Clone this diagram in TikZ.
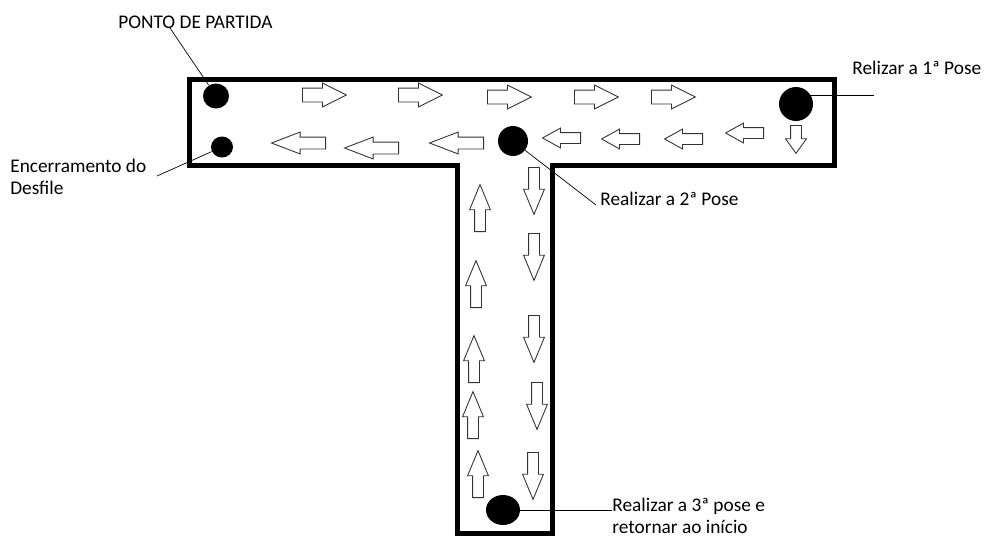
\documentclass[tikz,border=0pt]{standalone}
\usepackage{fontspec}
\setmainfont{Carlito}
\usetikzlibrary{shapes.arrows,shapes.geometric}

\begin{document}
\begin{tikzpicture}[x=0.02cm, y=-0.02cm, font=\fontsize{11}{12.5}\selectfont]

    \tikzstyle{seta}=[single arrow, draw=black!80, line width=0.5pt, fill=white, single arrow head indent=0pt, anchor=tail]
    \tikzstyle{setadir}=[seta, minimum height=0.88cm, inner sep=0.13cm, single arrow head extend=0.1cm, single arrow tip angle=53]
    \tikzstyle{setaesq}=[seta, shape border rotate=180, minimum height=1.08cm, inner sep=0.11cm, single arrow head extend=0.1cm, single arrow tip angle=42]
    \tikzstyle{setaesqp}=[seta, shape border rotate=180, minimum height=0.76cm, inner sep=0.1cm, single arrow head extend=0.09cm, single arrow tip angle=58]
    \tikzstyle{setavert}=[seta, minimum height=0.94cm, inner sep=0.1cm, single arrow head extend=0.1cm, single arrow tip angle=45]
    \tikzstyle{ponto}=[ellipse, fill=black, inner sep=0pt]
    \tikzstyle{rotulo}=[anchor=west, align=left, inner sep=0pt]

    \useasboundingbox (0,0) rectangle (984,538);

    % passarela em T
    \draw[line width=0.1cm] (189,79) -- (834,79) -- (834,165) -- (552,165) -- (552,533)
        -- (457,533) -- (457,165) -- (189,165) -- cycle;

    % setas de ida (posicionadas pela cauda)
    \foreach \x/\y [count=\i] in {302/95, 398/95, 487/97, 574/97, 651/97}
        \node[setadir] (ida\i) at (\x,\y) {};
    % setas de volta
    \foreach \x/\y [count=\i] in {326/143, 399/148, 484/143}
        \node[setaesq] (volta\i) at (\x,\y) {};
    \foreach \x/\y [count=\i] in {581/138, 640/139, 703/139, 764/133}
        \node[setaesqp] (voltap\i) at (\x,\y) {};
    \node[setavert, shape border rotate=270, minimum height=0.56cm, single arrow tip angle=71] (desce) at (796,125) {};
    % setas da passarela central
    \foreach \x/\y [count=\i] in {534/167, 534/233, 534/315, 537/382, 533/452}
        \node[setavert, shape border rotate=270] (baixo\i) at (\x,\y) {};
    \foreach \x/\y [count=\i] in {480/232, 476/308, 474/383, 473/439, 478/498}
        \node[setavert, shape border rotate=90] (cima\i) at (\x,\y) {};

    % pontos
    \node[ponto, minimum width=0.52cm, minimum height=0.5cm]  (inicio) at (216,96) {};
    \node[ponto, minimum width=0.44cm, minimum height=0.42cm] (fim)    at (222,147) {};
    \node[ponto, minimum width=0.68cm, minimum height=0.68cm] (pose1)  at (796,104) {};
    \node[ponto, minimum width=0.6cm, minimum height=0.6cm]   (pose2)  at (513,141) {};
    \node[ponto, minimum width=0.68cm, minimum height=0.6cm]  (pose3)  at (503,510) {};

    % rotulos
    \node[rotulo] (partida) at (118,22)  {PONTO DE PARTIDA};
    \node[rotulo] (encerra) at (10,177)  {Encerramento do\\Desfile};
    \node[rotulo] (txt1)    at (852,68)  {Relizar a 1ª Pose};
    \node[rotulo] (txt2)    at (600,199) {Realizar a 2ª Pose};
    \node[rotulo] (txt3)    at (612,516) {Realizar a 3ª pose e\\retornar ao início};

    \coordinate (c0) at (170,28);
    \coordinate (c4) at (157,176);
    \coordinate (c1) at (874,95);
    \coordinate (c2) at (596,205);
    \coordinate (c3) at (612,510);

    \draw[thin] (c0) -- (inicio);
    \draw[thin] (c4) -- (fim);
    \draw[thin] (c1) -- (c1 -| pose1.center);
    \draw[thin] (c2) -- (pose2);
    \draw[thin] (c3) -- (pose3);
\end{tikzpicture}
\end{document}
